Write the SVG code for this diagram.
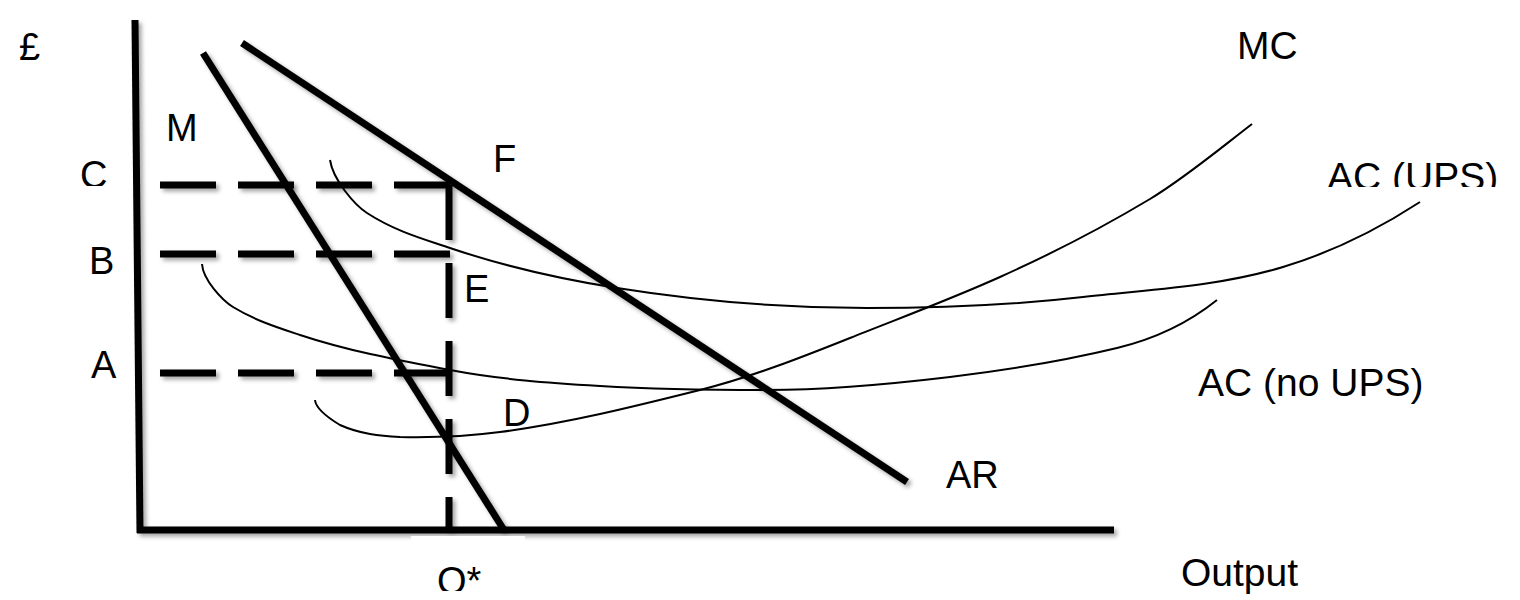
<svg xmlns="http://www.w3.org/2000/svg" width="1520" height="600" viewBox="0 0 1520 600">
<style>
.lbl{font-family:"Liberation Sans",Arial,sans-serif;font-size:38px;fill:#000}
.big{font-size:39px}
.thick{stroke:#000;stroke-width:7;fill:none;stroke-linecap:butt}
.dash{stroke:#000;stroke-width:7;fill:none;stroke-dasharray:56 22}
.vdash{stroke:#000;stroke-width:7;fill:none;stroke-dasharray:55 23}
.curve{stroke:#000;stroke-width:2;fill:none}
</style>
<defs>
<filter id="sh" filterUnits="userSpaceOnUse" x="0" y="0" width="1520" height="600">
<feDropShadow dx="3" dy="3" stdDeviation="2" flood-color="#000" flood-opacity="0.35"/>
</filter>
<clipPath id="clipC"><rect x="60" y="140" width="60" height="46"/></clipPath>
<clipPath id="clipUPS"><rect x="1310" y="140" width="210" height="47"/></clipPath>
<clipPath id="clipQ"><rect x="411" y="540" width="114" height="51"/></clipPath>
</defs>
<rect width="1520" height="600" fill="#fff"/>
<g id="axes" filter="url(#sh)">
<line class="thick" x1="135" y1="20" x2="140" y2="533"/>
<line class="thick" x1="137" y1="530" x2="1114" y2="530"/>
</g>
<g id="connectors">
<g id="guides" filter="url(#sh)">
<line class="dash" x1="160" y1="185" x2="450" y2="185"/>
<line class="dash" x1="160" y1="254" x2="450" y2="254"/>
<line class="dash" x1="160" y1="373" x2="450" y2="373"/>
<line class="vdash" x1="449" y1="185" x2="449" y2="530"/>
</g>
<g id="revenue" filter="url(#sh)">
<line id="MR" class="thick" x1="203" y1="53" x2="504" y2="530"/>
<line id="AR" class="thick" x1="242" y1="43" x2="907" y2="482"/>
</g>
<g id="costs">
<path id="AC-UPS" class="curve" d="M330,160 C333,180 354.7,205 367,213 C394.7,231 422.3,238.6 450,248 C505.7,266.9 561.3,279.1 617,288 C700.3,301.3 783.7,308 867,308 C939,308 1011,305.3 1083,297 C1149.7,289.3 1216.3,287 1283,267 C1328.7,253.3 1374.3,231.7 1420,202"/>
<path id="AC-noUPS" class="curve" d="M202,264 C203,280 222.7,300.7 233,307 C255.3,320.6 277.7,327.6 300,335 C350,351.5 400,360.5 450,370 C500,379.5 550,383 600,386 C655.7,389.3 711.3,390 767,390 C828,390 889,384.3 950,377 C1005.7,370.3 1061.3,361.4 1117,348 C1150.3,340 1183.7,326.7 1217,300"/>
<path id="MC" class="curve" d="M315,400 C316,410 331.7,420 340,425 C360,434 380,436 400,437 C433,437.7 466.7,436.4 500,432 C566.7,423.3 633.3,406.7 700,390 C750,377.5 800,358 850,338 C900,318 950,299.5 1000,277 C1050,254.5 1100,229 1150,199 C1184,178.6 1218,150.2 1252,124"/>
</g>
</g>
<rect x="411" y="536" width="114" height="55" fill="#fff"/>
<g id="labels">
<text class="lbl" x="19" y="60">£</text>
<text class="lbl" x="166" y="141">M</text>
<text class="lbl" x="80" y="188" clip-path="url(#clipC)">C</text>
<text class="lbl" x="493" y="172">F</text>
<text class="lbl" x="89" y="274">B</text>
<text class="lbl" x="464" y="302">E</text>
<text class="lbl" x="91" y="378">A</text>
<text class="lbl" x="503" y="426">D</text>
<text class="lbl" x="946" y="488">AR</text>
<text class="lbl" x="437" y="594" clip-path="url(#clipQ)">Q*</text>
<text class="lbl big" x="1237" y="59">MC</text>
<text class="lbl big" x="1327" y="190" clip-path="url(#clipUPS)">AC (UPS)</text>
<text class="lbl big" x="1198" y="396">AC (no UPS)</text>
<text class="lbl big" x="1181" y="586">Output</text>
</g>
</svg>
